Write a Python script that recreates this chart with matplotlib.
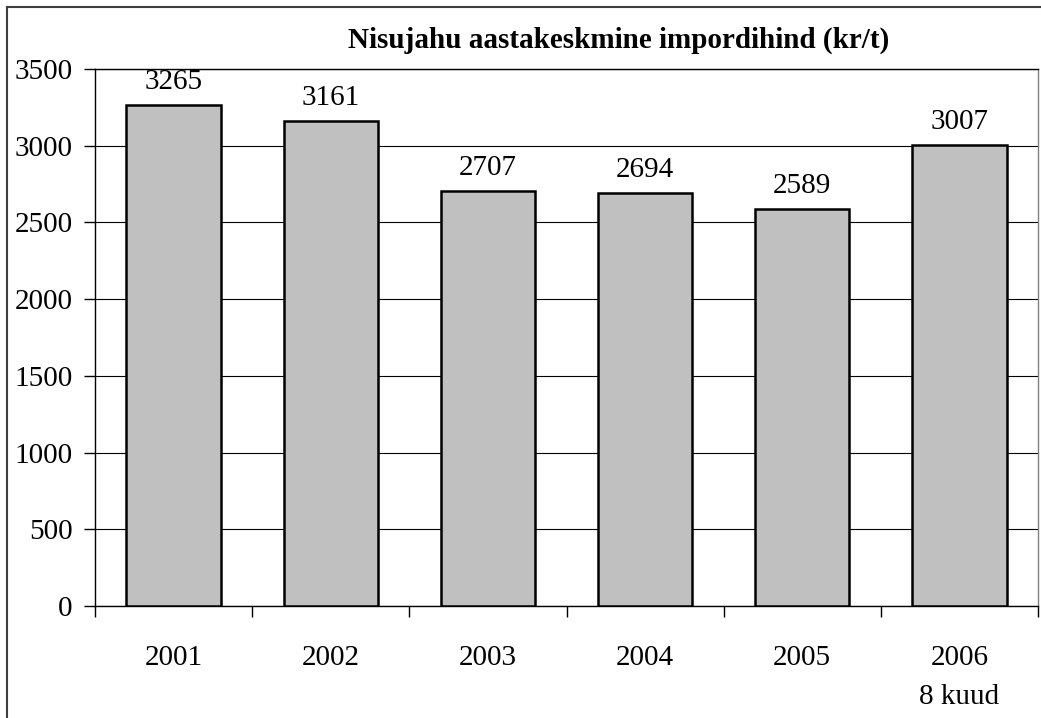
import matplotlib.pyplot as plt
import numpy as np
from matplotlib.lines import Line2D

years = ["2001", "2002", "2003", "2004", "2005", "2006\n8 kuud"]
prices = [3265, 3161, 2707, 2694, 2589, 3007]
title = "Nisujahu aastakeskmine impordihind (kr/t)"

plt.rcParams['font.family'] = ['Liberation Serif', 'DejaVu Serif']

W, H = 1041, 718
fig = plt.figure(figsize=(W / 100, H / 100), dpi=100)
ax = fig.add_axes([95 / W, 1 - 606 / H, (1038 - 95) / W, (606 - 69) / H])

x = np.arange(len(years))
ax.bar(x, prices, width=0.6, color='#c0c0c0', edgecolor='black', linewidth=1.8, zorder=3)

for xi, v in zip(x, prices):
    ax.text(xi, v + 65, str(v), ha='center', va='bottom', fontsize=21)

ax.set_xlim(-0.5, len(years) - 0.5)
ax.set_ylim(0, 3500)
ax.set_yticks(np.arange(0, 3501, 500))
ax.yaxis.grid(True, color='black', linewidth=0.8, zorder=0)
ax.set_axisbelow(True)

ax.set_xticks(x)
ax.set_xticklabels(years, fontsize=21, linespacing=1.65)
ax.set_xticks(np.arange(-0.5, len(years), 1), minor=True)
ax.tick_params(axis='x', which='major', length=0, pad=28)
ax.tick_params(axis='x', which='minor', length=8, width=1, direction='out')
ax.tick_params(axis='y', labelsize=21, length=8, width=1, pad=8)

for s in ['left', 'bottom', 'top']:
    ax.spines[s].set_color('black')
    ax.spines[s].set_linewidth(1)
ax.spines['right'].set_color('#808080')
ax.spines['right'].set_linewidth(1)

fig.text(619 / W, 1 - 40 / H, title, ha='center', va='center',
         fontsize=21, fontweight='bold')

# outer chart frame (left and top edges visible)
fig.add_artist(Line2D([7 / W, 7 / W], [0, 1 - 7 / H], transform=fig.transFigure,
                      color='#404040', linewidth=1.5))
fig.add_artist(Line2D([7 / W, 1], [1 - 7 / H, 1 - 7 / H], transform=fig.transFigure,
                      color='#404040', linewidth=1.5))

fig.savefig("out.png", dpi=100)
